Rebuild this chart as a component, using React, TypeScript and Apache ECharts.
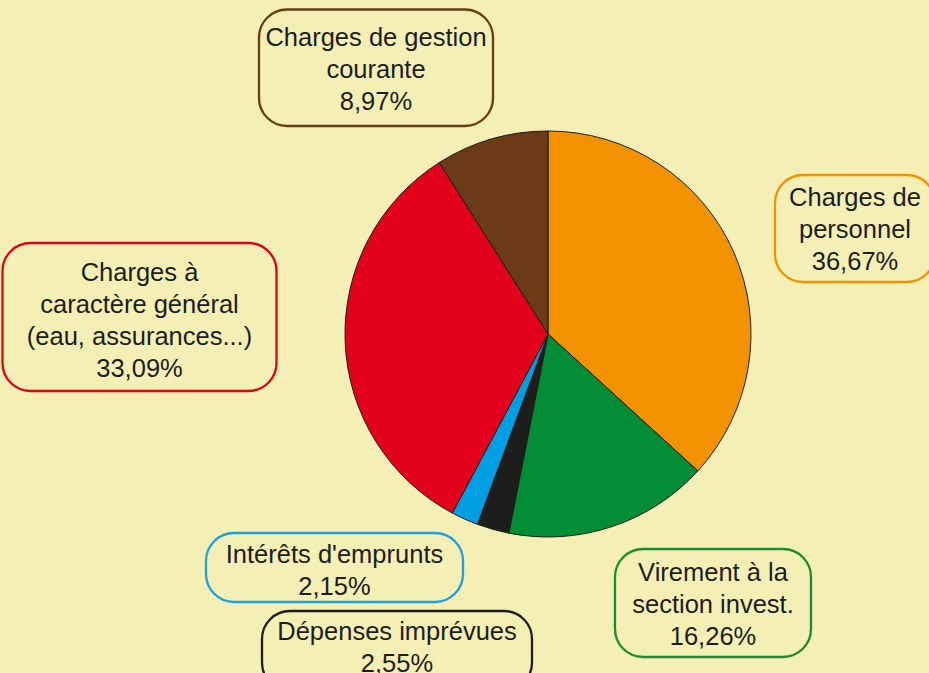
import React, { useEffect, useRef } from "react";
import * as echarts from "echarts";

const categories = [
  "Charges de\npersonnel",
  "Virement à la\nsection invest.",
  "Dépenses imprévues",
  "Intérêts d'emprunts",
  "Charges à\ncaractère général\n(eau, assurances...)",
  "Charges de gestion\ncourante",
];
const values = [36.67, 16.26, 2.55, 2.15, 33.09, 8.97];
const sliceColors = ["#f39200", "#008d36", "#1d1d1b", "#009fe3", "#e3001b", "#6b3a17"];
const boxColors = ["#f39200", "#1d8a35", "#1d1d1b", "#1e9fdf", "#e3001b", "#6b3a17"];
// label boxes: [centerX, boxTop, width, padTop, padBottom]
const boxes = [
  [855, 175, 160, 6, 5],
  [713, 549, 196, 6.5, 5.5],
  [397, 611, 270, 3.5, 12],
  [334.5, 533, 257, 4.5, 0.5],
  [139.5, 243, 274, 12.5, 7.5],
  [376, 9.5, 234, 11, 9.5],
];

export default function App() {
  const ref = useRef<HTMLDivElement>(null);
  useEffect(() => {
    if (!ref.current) return;
    const chart = echarts.init(ref.current, null, { renderer: "svg" });
    const data = categories.map((name, i) => ({
      name,
      value: values[i],
      itemStyle: { color: sliceColors[i] },
      label: {
        borderColor: boxColors[i],
        width: boxes[i][2],
        padding: [boxes[i][3], 0, boxes[i][4], 0],
      },
    }));
    chart.setOption({
      animation: false,
      backgroundColor: "#f4efb4",
      series: [
        {
          type: "pie",
          center: [548, 334],
          radius: 203,
          startAngle: 90,
          clockwise: true,
          avoidLabelOverlap: false,
          silent: true,
          itemStyle: { borderColor: "#1d1d1b", borderWidth: 1 },
          labelLine: { show: false },
          emphasis: { disabled: true },
          label: {
            show: true,
            position: "outside",
            formatter: (p: any) =>
              p.name + "\n" + p.value.toFixed(2).replace(".", ",") + "%",
            fontFamily: "'Liberation Sans', Arial, Helvetica, sans-serif",
            fontSize: 25.5,
            lineHeight: 32,
            color: "#1d1d1b",
            align: "center",
            borderWidth: 2.3,
            borderRadius: 28,
            overflow: "none",
          },
          labelLayout: (params: any) => {
            const b = boxes[params.dataIndex];
            return { x: b[0], y: b[1], align: "center", verticalAlign: "top" };
          },
          data,
        },
      ],
    });
    return () => chart.dispose();
  }, []);
  return (
    <div
      ref={ref}
      style={{ position: "fixed", left: 0, top: 0, width: 929, height: 673 }}
    />
  );
}
